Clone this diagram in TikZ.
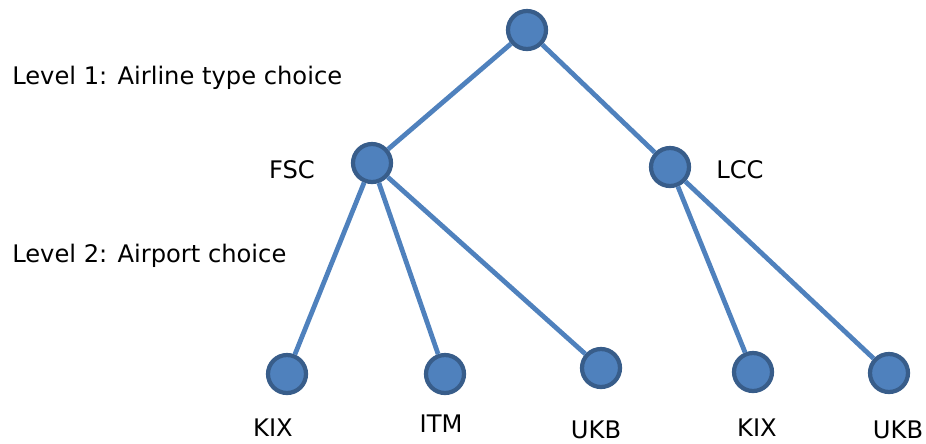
\documentclass[tikz,border=0pt]{standalone}
\usepackage{fontspec}
\setmainfont{DejaVu Sans}
\definecolor{nodeblue}{HTML}{4F81BD}
\definecolor{rimblue}{HTML}{385D8A}
\begin{document}
\begin{tikzpicture}[
    x=0.025cm, y=-0.025cm,
    choice/.style={circle, draw=rimblue, line width=3pt, fill=nodeblue, minimum size=0.95cm, inner sep=0pt},
    branch/.style={draw=nodeblue, line width=3.4pt},
    lab/.style={font=\fontsize{17.2}{20}\selectfont, inner sep=0pt}
]
\useasboundingbox (0,0) rectangle (926,443);

\node[choice] (root) at (527,30) {};
\node[choice] (fsc) at (372,163) {};
\node[choice] (lcc) at (670,167) {};

\node[choice] (f1) at (287,374) {};
\node[choice] (f2) at (445,374) {};
\node[choice] (f3) at (601,368) {};
\node[choice] (l1) at (753,372) {};
\node[choice] (l2) at (889,373) {};

\draw[branch] (root) -- (fsc);
\draw[branch] (root) -- (lcc);
\draw[branch] (fsc) -- (f1);
\draw[branch] (fsc) -- (f2);
\draw[branch] (fsc) -- (f3);
\draw[branch] (lcc) -- (l1);
\draw[branch] (lcc) -- (l2);

\node[lab, anchor=west] (lev1) at (12,78) {Level 1: Airline type choice};
\node[lab, anchor=west] (lev2) at (12,256) {Level 2: Airport choice};
\node[lab] (fsclab) at (292,170) {FSC};
\node[lab] (lcclab) at (740,170) {LCC};

\node[lab] (k1) at (273,428) {KIX};
\node[lab] (i1) at (441,424) {ITM};
\node[lab] (u1) at (596,430) {UKB};
\node[lab] (k2) at (757,428) {KIX};
\node[lab] (u2) at (898,430) {UKB};
\end{tikzpicture}
\end{document}
